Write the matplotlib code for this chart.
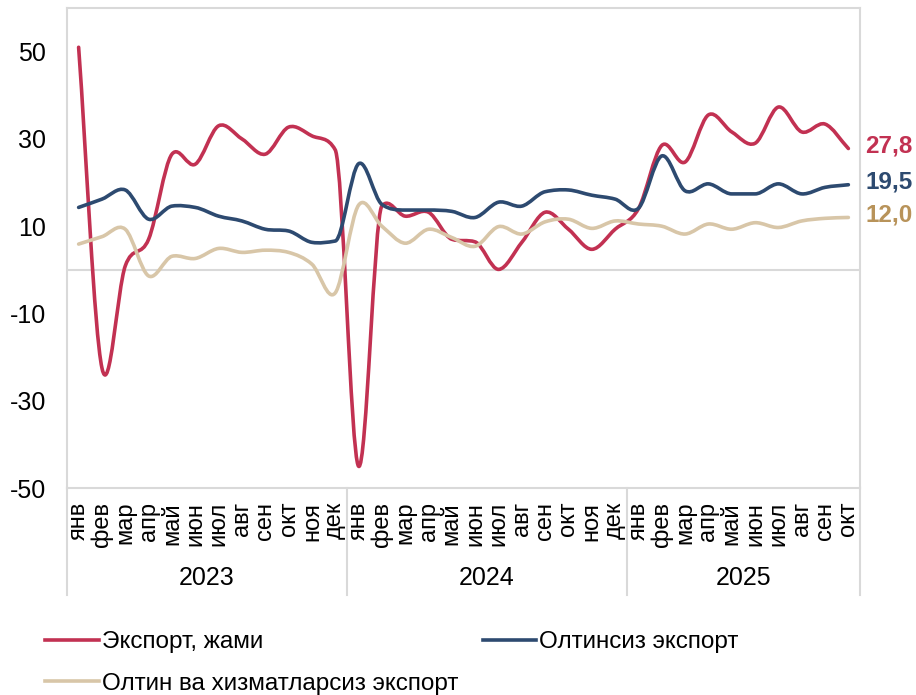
import matplotlib
matplotlib.use("Agg")
import matplotlib.pyplot as plt
from matplotlib.path import Path
from matplotlib.patches import PathPatch
from matplotlib.lines import Line2D

plt.rcParams["font.family"] = ["Liberation Sans", "DejaVu Sans"]
plt.rcParams["axes.unicode_minus"] = False

months = ["янв", "фев", "мар", "апр", "май", "июн", "июл", "авг", "сен", "окт", "ноя", "дек"]
years = ["2023", "2024", "2025"]
month_labels = months + months + months[:10]

total_export = [51.0, -22.5, 0.9, 7.0, 26.5, 24.2, 33.0, 30.0, 26.5, 32.7, 30.7, 27.5,
                -45.0, 14.6, 12.3, 13.2, 7.0, 6.4, 0.1, 6.3, 13.2, 9.3, 4.7, 9.3,
                14.0, 28.5, 24.7, 35.5, 31.6, 29.0, 37.3, 31.6, 33.4, 27.8]
non_gold = [14.3, 16.2, 18.3, 11.6, 14.6, 14.3, 12.3, 11.2, 9.3, 8.9, 6.3, 6.6,
            24.3, 15.0, 13.7, 13.7, 13.4, 12.0, 15.5, 14.6, 17.9, 18.3, 17.1, 16.2,
            14.1, 26.1, 18.1, 19.7, 17.4, 17.4, 19.7, 17.4, 18.9, 19.5]
non_gold_services = [5.9, 7.6, 9.3, -1.4, 3.1, 2.6, 4.9, 4.0, 4.5, 4.0, 1.3, -5.3,
                     14.8, 10.0, 6.1, 9.3, 7.4, 5.4, 9.9, 8.2, 11.0, 11.6, 9.5, 11.2,
                     10.5, 10.0, 8.2, 10.5, 9.3, 10.8, 9.7, 11.2, 11.8, 12.0]

series = [
    ("Экспорт, жами", total_export, "#C23152", "#C23152"),
    ("Олтинсиз экспорт", non_gold, "#2D4A70", "#2D4A70"),
    ("Олтин ва хизматларсиз экспорт", non_gold_services, "#D8C6A8", "#B8935A"),
]


def smooth_path(y):
    # smoothed line as cubic bezier segments, tangents limited to avoid big overshoot
    n = len(y)
    m = []
    for i in range(n):
        lo = y[i - 1] if i > 0 else y[i]
        hi = y[i + 1] if i < n - 1 else y[i]
        span = (i + 1 if i < n - 1 else i) - (i - 1 if i > 0 else i)
        t = (hi - lo) / span
        d = [abs(y[i] - y[i - 1])] if i > 0 else []
        if i < n - 1:
            d.append(abs(y[i + 1] - y[i]))
        lim = 3 * min(d)
        m.append(max(-lim, min(lim, t)))
    verts = [(0, y[0])]
    codes = [Path.MOVETO]
    for i in range(n - 1):
        verts += [(i + 1 / 3, y[i] + m[i] / 3), (i + 2 / 3, y[i + 1] - m[i + 1] / 3), (i + 1, y[i + 1])]
        codes += [Path.CURVE4] * 3
    return Path(verts, codes)


fig = plt.figure(figsize=(9.16, 6.95), dpi=100)
ax = fig.add_axes([0.0731, 0.2978, 0.8658, 0.6907])

grey = "#D9D9D9"
ax.axhline(0, color=grey, lw=1.5, zorder=1)

handles = []
for name, vals, col, lab_col in series:
    ax.add_patch(PathPatch(smooth_path(vals), fill=False, edgecolor=col, lw=2.6,
                           capstyle="round", joinstyle="round", zorder=3))
    handles.append(Line2D([], [], color=col, lw=2.6))
    ax.text(len(vals) - 1 + 0.72, vals[-1] + 0.6, f"{vals[-1]:.1f}".replace(".", ","),
            color=lab_col, fontsize=17.5, fontweight="bold", ha="left", va="center")

ax.set_xlim(-0.5, len(month_labels) - 0.5)
ax.set_ylim(-50, 60)
ax.set_yticks([-50, -30, -10, 10, 30, 50])
ax.tick_params(axis="y", length=0, pad=15, labelsize=18)
ax.set_xticks(range(len(month_labels)))
ax.set_xticklabels(month_labels, rotation=90, fontsize=17)
ax.tick_params(axis="x", length=0, pad=10)

for s in ax.spines.values():
    s.set_color(grey)
    s.set_linewidth(1.5)

# year group separators under the axis
tr = ax.get_xaxis_transform()
for xb in [-0.5, 11.5, 23.5, len(month_labels) - 0.5]:
    ax.plot([xb, xb], [0, -0.223], color=grey, lw=1.5, transform=tr, clip_on=False)
for k, yr in enumerate(years):
    start = k * 12 - 0.5
    end = min(start + 12, len(month_labels) - 0.5)
    ax.text((start + end) / 2, -0.1875, yr, transform=tr, ha="center", va="center", fontsize=18)

leg = fig.legend([handles[0], handles[2], handles[1]],
                 [series[0][0], series[2][0], series[1][0]],
                 ncol=2, frameon=False, fontsize=17.5, loc="upper left",
                 bbox_to_anchor=(0.039, 0.106), handlelength=2.2, handletextpad=0.12,
                 labelspacing=0.8, columnspacing=1.0, borderaxespad=0)

fig.savefig("out.png", dpi=100)
